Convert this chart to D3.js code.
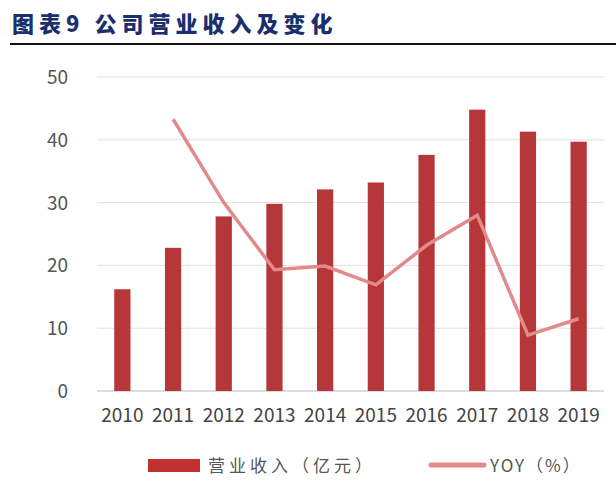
<!DOCTYPE html><html><head><meta charset="utf-8"><script src="https://cdn.jsdelivr.net/npm/d3@7"></script>
<style>body{margin:0;background:#fff}</style></head><body><svg id="c" width="616" height="496"></svg>
<script>
const years=["2010","2011","2012","2013","2014","2015","2016","2017","2018","2019"];
const revenue=[16.2,22.8,27.8,29.8,32.1,33.2,37.6,44.8,41.3,39.7];
const yoy=[null,43.3,30.0,19.3,19.9,16.9,23.2,28.0,8.9,11.5];
const yTicks=[0,10,20,30,40,50];
const svg=d3.select("#c");
const font="'Noto Sans CJK SC',sans-serif";
svg.append("text").attr("x",12).attr("y",32).attr("font-family",font).attr("font-weight","900").attr("font-size",22).attr("letter-spacing",5).attr("fill","#1a2f6e").text("图表9 公司营业收入及变化");
svg.append("line").attr("x1",10).attr("x2",616).attr("y1",44).attr("y2",44).attr("stroke","#111").attr("stroke-width",2);
const x=d3.scaleBand().domain(years).range([97,604]).paddingInner(0.68).paddingOuter(0.34);
const y=d3.scaleLinear().domain([0,50]).range([391,77]);
const g=svg.append("g");
g.selectAll(".grid").data(yTicks).join("line").attr("x1",97).attr("x2",604).attr("y1",d=>y(d)).attr("y2",d=>y(d)).attr("stroke",(d)=>d===0?"#bbb":"#e0e0e0");
g.selectAll(".yl").data(yTicks).join("text").attr("x",68).attr("y",d=>y(d)+7).attr("text-anchor","end").attr("font-family",font).attr("font-size",19).attr("fill","#555").text(d=>d);
g.selectAll(".xl").data(years).join("text").attr("x",d=>x(d)+x.bandwidth()/2).attr("y",422).attr("text-anchor","middle").attr("font-family",font).attr("font-size",19).attr("fill","#444").text(d=>d);
g.selectAll(".bar").data(revenue).join("rect").attr("x",(d,i)=>x(years[i])).attr("width",x.bandwidth()).attr("y",d=>y(d)).attr("height",d=>y(0)-y(d)).attr("fill","#b5373a");
const line=d3.line().defined(d=>d!=null).x((d,i)=>x(years[i])+x.bandwidth()/2).y(d=>y(d));
g.append("path").datum(yoy).attr("d",line).attr("fill","none").attr("stroke","#e28a8a").attr("stroke-width",3.5);
svg.append("rect").attr("x",148).attr("y",459).attr("width",52).attr("height",13).attr("fill","#c0312f");
svg.append("text").attr("x",208).attr("y",472).attr("font-family",font).attr("font-size",17).attr("fill","#555").attr("letter-spacing",4).text("营业收入（亿元）");
svg.append("line").attr("x1",431).attr("x2",484).attr("y1",465).attr("y2",465).attr("stroke","#e28a8a").attr("stroke-width",5).attr("stroke-linecap","round");
svg.append("text").attr("x",490).attr("y",472).attr("font-family",font).attr("font-size",17).attr("fill","#555").attr("letter-spacing",2).text("YOY（%）");
</script></body></html>
